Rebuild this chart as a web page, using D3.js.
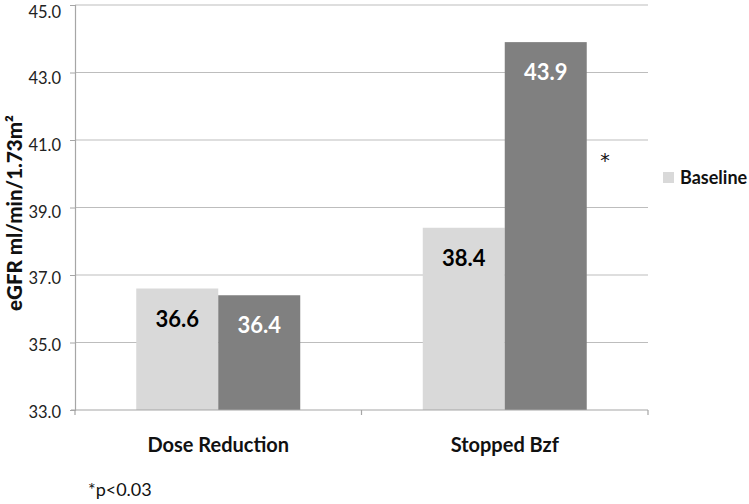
<!DOCTYPE html>
<html><head><meta charset="utf-8">
<script src="https://cdn.jsdelivr.net/npm/d3@7"></script>
<style>body{margin:0;background:#fff}svg{display:block}text{font-family:Lato,"Open Sans",sans-serif}</style>
</head><body>
<svg id="c" width="749" height="504"></svg>
<script>
const categories = ["Dose Reduction", "Stopped Bzf"];
const seriesNames = ["Baseline", "Follow-up"];
const baseline = [36.6, 38.4];
const followup = [36.4, 43.9];
const yTicks = [33, 35, 37, 39, 41, 43, 45];
const colors = ["#d9d9d9", "#808080"];
const labelColors = ["#000", "#fff"];

(function () {
const svg = d3.select("#c");
const pLeft = 75, pRight = 648, pTop = 5, pBottom = 410;
const y = d3.scaleLinear().domain([33, 45]).range([pBottom, pTop]);
const yLab = d3.scaleLinear().domain([33, 45]).range([pBottom + 2, pTop + 7]);
const x = d3.scaleBand().domain(categories).range([pLeft, pRight]).paddingInner(0).paddingOuter(0);
const xs = d3.scaleBand().domain([0, 1]).range([0, x.bandwidth()]).paddingInner(0).paddingOuter(0.747);

// gridlines
svg.append("g").selectAll("line").data(yTicks.slice(1)).join("line")
  .attr("x1", pLeft).attr("x2", pRight).attr("y1", d => y(d)).attr("y2", d => y(d))
  .attr("stroke", "#bdbdbd").attr("stroke-width", 1.2);

// y axis
const ya = svg.append("g").attr("transform", `translate(${pLeft},0)`)
  .call(d3.axisLeft(y).tickValues(yTicks).tickFormat(d3.format(".1f")).tickSize(5).tickPadding(6));
ya.select(".domain").attr("stroke", "#a6a6a6").attr("stroke-width", 1.2);
ya.selectAll(".tick line").attr("stroke", "#a6a6a6");
ya.selectAll(".tick text").attr("font-size", 16.5).attr("fill", "#222")
  .attr("y", d => yLab(d) - y(d)).attr("x", -14);

// bars
const data = categories.map((c, i) => ({c, vals: [baseline[i], followup[i]]}));
const groups = svg.append("g").selectAll("g").data(data).join("g")
  .attr("transform", d => `translate(${x(d.c)},0)`);
groups.selectAll("rect").data(d => d.vals.map((v, j) => ({v, j}))).join("rect")
  .attr("x", d => xs(d.j)).attr("width", xs.bandwidth())
  .attr("y", d => y(d.v)).attr("height", d => pBottom - y(d.v))
  .attr("fill", d => colors[d.j]);
groups.selectAll("text").data(d => d.vals.map((v, j) => ({v, j}))).join("text")
  .attr("x", d => xs(d.j) + xs.bandwidth() / 2).attr("y", d => y(d.v) + 38)
  .attr("text-anchor", "middle").attr("font-size", 22).attr("font-weight", "bold")
  .attr("fill", d => labelColors[d.j]).text(d => d.v.toFixed(1));

// x axis
svg.append("line").attr("x1", pLeft - 4).attr("x2", pRight).attr("y1", pBottom).attr("y2", pBottom)
  .attr("stroke", "#a6a6a6").attr("stroke-width", 1.2);
const xTickPos = [pLeft, x(categories[1]), pRight];
svg.append("g").selectAll("line").data(xTickPos).join("line")
  .attr("x1", d => d).attr("x2", d => d).attr("y1", pBottom).attr("y2", pBottom + 5)
  .attr("stroke", "#a6a6a6").attr("stroke-width", 1.2);
svg.append("g").selectAll("text").data(categories).join("text")
  .attr("x", d => x(d) + x.bandwidth() / 2).attr("y", 452)
  .attr("text-anchor", "middle").attr("font-size", 20).attr("font-weight", "bold").attr("fill", "#111")
  .text(d => d);

// y title
svg.append("text").attr("transform", "translate(22,213) rotate(-90)")
  .attr("text-anchor", "middle").attr("font-size", 20.5).attr("font-weight", "900").attr("fill", "#111")
  .text("eGFR ml/min/1.73m²");

// asterisk
svg.append("text").attr("x", 605).attr("y", 167).attr("text-anchor", "middle")
  .style("font-family", "'DejaVu Sans'").attr("font-size", 19).attr("fill", "#111").text("*");

// legend
svg.append("rect").attr("x", 663).attr("y", 172).attr("width", 11).attr("height", 11).attr("fill", colors[0]);
svg.append("text").attr("x", 680).attr("y", 184).attr("font-size", 18).attr("font-weight", "bold").attr("fill", "#111").text(seriesNames[0]);

// footnote
svg.append("text").attr("x", 88).attr("y", 496).attr("font-size", 18).attr("fill", "#111").text("*p<0.03");
})();
</script>
</body></html>
